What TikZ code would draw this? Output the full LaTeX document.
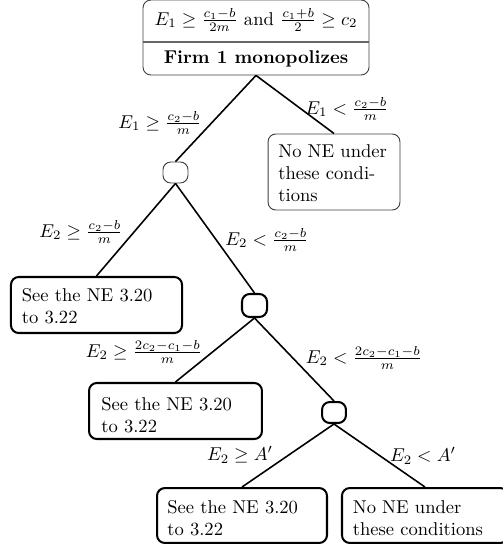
\documentclass[tikz,border=0pt]{standalone}
\usepackage{amsmath}
\begin{document}
\begin{tikzpicture}[x=0.539pt,y=-0.539pt,
  thinbox/.style={draw=black!75,line width=0.5pt,rounded corners=4.2pt,inner sep=0pt},
  thickbox/.style={draw=black,line width=1.1pt,rounded corners=4.2pt,inner sep=0pt},
  txt/.style={align=left,inner sep=0pt,anchor=north west},
  branch/.style={line width=0.85pt},
  lab/.style={inner sep=0pt}]
\useasboundingbox (0,0) rectangle (502,550);

% root: conditions and outcome
\node[thinbox,minimum width=121.8pt,minimum height=40.4pt] (root) at (256,37.5) {};
\draw[black!60,line width=0.6pt] (root.west |- 256,42) -- (root.east |- 256,42);
\node[lab] (rootA) at (256,20) {$E_1 \geq \frac{c_1-b}{2m}$ and $\frac{c_1+b}{2} \geq c_2$};
\node[lab] (rootB) at (256,59) {\textbf{Firm 1 monopolizes}};

% decision points
\node[thinbox,minimum width=13.5pt,minimum height=11.3pt] (n1) at (175.5,172.5) {};
\node[thickbox,minimum width=13.5pt,minimum height=12.4pt] (n2) at (254.5,305.5) {};
\node[thickbox,minimum width=12.9pt,minimum height=11.3pt] (n3) at (334,412.5) {};

% outcomes
\node[thinbox,minimum width=71.1pt,minimum height=41pt] (no1) at (334,172) {};
\node[txt] at (278,144) {No NE under\\these condi-\\tions};

\node[thickbox,minimum width=92.2pt,minimum height=30.2pt] (see1) at (96.5,305) {};
\node[txt] at (21.5,288) {See the NE 3.20\\to 3.22};

\node[thickbox,minimum width=93.2pt,minimum height=30.2pt] (see2) at (175.5,411) {};
\node[txt] at (101,397) {See the NE 3.20\\to 3.22};

\node[thickbox,minimum width=91.6pt,minimum height=29.6pt] (see3) at (242,515.5) {};
\node[txt] at (167,500) {See the NE 3.20\\to 3.22};

\node[thickbox,minimum width=89.5pt,minimum height=29.6pt] (no2) at (425,515.5) {};
\node[txt] at (352.5,500) {No NE under\\these conditions};

% branches
\draw[branch] (root.south) -- (n1.north);
\draw[branch] (root.south) -- (no1.north);
\draw[branch] (n1.south) -- (see1.north);
\draw[branch] (n1.south) -- (n2.north);
\draw[branch] (n2.south) -- (see2.north);
\draw[branch] (n2.south) -- (n3.north);
\draw[branch] (n3.south) -- (see3.north);
\draw[branch] (n3.south) -- (no2.north);

% branch conditions
\node[lab] (l1) at (160,123) {$E_1 \geq \frac{c_2-b}{m}$};
\node[lab] (l2) at (347,109) {$E_1 < \frac{c_2-b}{m}$};
\node[lab] (l3) at (81,232) {$E_2 \geq \frac{c_2-b}{m}$};
\node[lab] (l4) at (267,240) {$E_2 < \frac{c_2-b}{m}$};
\node[lab] (l5) at (144,352) {$E_2 \geq \frac{2c_2-c_1-b}{m}$};
\node[lab] (l6) at (364,358) {$E_2 < \frac{2c_2-c_1-b}{m}$};
\node[lab] (l7) at (240,455) {$E_2 \geq A'$};
\node[lab] (l8) at (423,456) {$E_2 < A'$};
\end{tikzpicture}
\end{document}
